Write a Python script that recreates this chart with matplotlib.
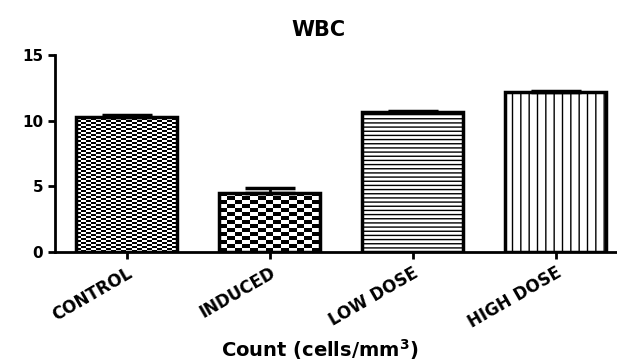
import numpy as np
import matplotlib
matplotlib.use("Agg")
import matplotlib.pyplot as plt

# data
groups = ["CONTROL", "INDUCED", "LOW DOSE", "HIGH DOSE"]
wbc = [10.3, 4.5, 10.65, 12.15]
sem = [0.15, 0.35, 0.08, 0.12]

plt.rcParams["font.family"] = ["DejaVu Sans"]
plt.rcParams["font.weight"] = "bold"
plt.rcParams["hatch.linewidth"] = 1.0

W, H = 617, 363
fig = plt.figure(figsize=(W / 100, H / 100), dpi=100)
ax = fig.add_axes([55 / W, 1 - 252 / H, (W - 55) / W, (252 - 55) / H])

x = np.arange(len(groups))
bars = ax.bar(x, wbc, width=0.7, color="white", edgecolor="black",
              linewidth=2.5, zorder=3)
ax.errorbar(x, wbc, yerr=[np.zeros(len(sem)), sem], fmt="none",
            ecolor="black", elinewidth=2, capsize=18, capthick=2.5, zorder=4)

ax.set_xlim(-0.5, 3.43)
ax.set_ylim(0, 15)

# checkerboards for the first two bars, hatches for the others
def checker(rect, cw, ch):
    p0 = ax.transData.transform((rect.get_x(), 0))
    p1 = ax.transData.transform((rect.get_x() + rect.get_width(), rect.get_height()))
    nx = max(1, int(round((p1[0] - p0[0]) / cw)))
    ny = max(1, int(round((p1[1] - p0[1]) / ch)))
    board = (np.add.outer(np.arange(ny), np.arange(nx)) % 2).astype(float)
    rect.set_facecolor("none")
    im = ax.imshow(board, cmap="gray", interpolation="nearest", aspect="auto",
                   extent=(rect.get_x(), rect.get_x() + rect.get_width(), 0, rect.get_height()),
                   zorder=2.5)
    im.set_clip_path(rect)

checker(bars[0], 5, 2)
checker(bars[1], 8, 4)
bars[2].set_hatch("----")
bars[3].set_hatch("||")
ax.set_xlim(-0.5, 3.43)
ax.set_ylim(0, 15)

ax.spines["top"].set_visible(False)
ax.spines["right"].set_visible(False)
ax.spines["left"].set_linewidth(2)
ax.spines["bottom"].set_linewidth(2)
ax.tick_params(width=2, length=5, labelsize=11)
ax.set_yticks([0, 5, 10, 15])
ax.set_xticks(x)
ax.set_xticklabels(groups, rotation=30, ha="right", rotation_mode="anchor",
                   fontsize=12, fontweight="bold")
for t in ax.get_yticklabels():
    t.set_fontweight("bold")

fig.text(318 / W, 1 - 30 / H, "WBC", ha="center", va="center",
         fontsize=15, fontweight="bold")
fig.text(320 / W, 1 - 350 / H, "Count (cells/mm$^\\mathbf{3}$)", ha="center",
         va="center", fontsize=14, fontweight="bold")

fig.savefig("out.png", dpi=100)
